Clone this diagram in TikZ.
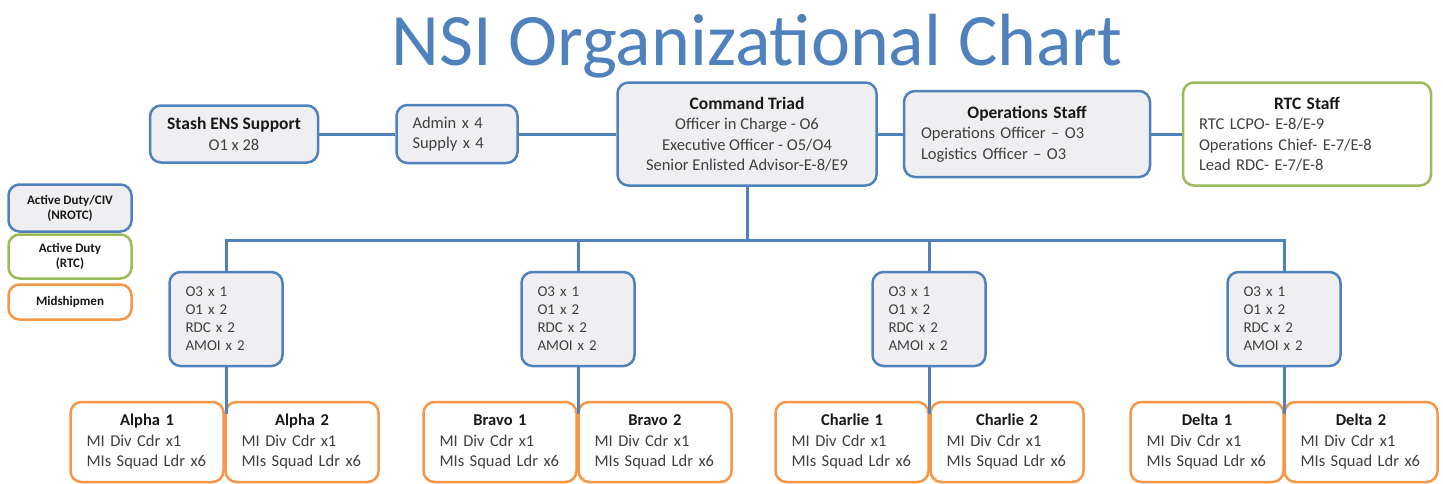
\documentclass[tikz,border=0pt]{standalone}
\usepackage{fontspec}
\setmainfont{Carlito}
\definecolor{nsiblue}{RGB}{79,129,189}
\definecolor{boxgray}{RGB}{239,239,242}
\definecolor{rtcgreen}{RGB}{155,187,89}
\definecolor{midorange}{RGB}{247,150,70}
\definecolor{txtgray}{RGB}{64,64,64}
\newcommand\orgtext{\fontsize{16.5}{20.5}\selectfont}
\newcommand\unittext{\fontsize{15}{18}\selectfont}
\newcommand\boxtitle[1]{\textbf{\color{black!90}#1}}
\newcommand\toptitle[1]{{\fontsize{17.5}{20.5}\selectfont\boxtitle{#1}}}
\tikzset{
  orgbox/.style={draw=nsiblue,fill=boxgray,line width=2.5pt,rounded corners=11pt,
                 inner sep=0pt,text=txtgray,font=\orgtext},
  legend/.style={orgbox,minimum width=123pt,minimum height=47pt,align=center,
                 font=\fontsize{13}{15}\selectfont\bfseries,text=black!90},
  unit/.style={orgbox,minimum width=113pt,minimum height=94pt,text width=81pt,
               align=left,font=\unittext},
  squad/.style={orgbox,draw=midorange,fill=white,minimum width=153pt,
                minimum height=80pt,text width=121pt,align=left,
                font=\fontsize{16.5}{20.5}\selectfont},
  link/.style={draw=nsiblue,line width=3pt}
}
\begin{document}
\begin{tikzpicture}[x=1pt,y=-1pt]
\useasboundingbox (0,0) rectangle (1443,483);
%title
\node[anchor=base,text=nsiblue,font=\fontsize{74}{80}\selectfont] (title) at (757,65) {NSI Organizational Chart};
%top row
\node[orgbox,minimum width=168pt,minimum height=57pt,align=center] (stash) at (234,134)
  {\toptitle{Stash ENS Support}\\O1 x 28};
\node[orgbox,minimum width=121pt,minimum height=58pt,text width=89pt,align=left] (admin) at (457,134)
  {Admin x 4\\Supply x 4};
\node[orgbox,minimum width=259pt,minimum height=103pt,align=center] (triad) at (747,134)
  {\toptitle{Command Triad}\\Officer in Charge - O6\\Executive Officer - O5/O4\\Senior Enlisted Advisor-E-8/E9};
\node[orgbox,minimum width=246pt,minimum height=86pt,text width=212pt,align=left] (ops) at (1027,134)
  {\makebox[\linewidth]{\toptitle{Operations Staff}}\\Operations Officer -- O3\\Logistics Officer -- O3};
\node[orgbox,draw=rtcgreen,fill=white,minimum width=248pt,minimum height=103pt,text width=216pt,align=left] (rtc) at (1307,134)
  {\makebox[\linewidth]{\toptitle{RTC Staff}}\\RTC LCPO- E-8/E-9\\Operations Chief- E-7/E-8\\Lead RDC- E-7/E-8};
%legend
\node[legend] (lgnrotc) at (70,208) {Active Duty/CIV\\(NROTC)};
\node[legend,draw=rtcgreen,fill=white,minimum height=44pt] (lgrtc) at (70,256.5) {Active Duty\\(RTC)};
\node[legend,draw=midorange,fill=white,minimum height=35pt] (lgmid) at (70,302) {Midshipmen};
%division staff
\node[unit] (alphaM) at (226,319) {O3 x 1\\O1 x 2\\RDC x 2\\AMOI x 2};
\node[unit] (bravoM) at (578,319) {O3 x 1\\O1 x 2\\RDC x 2\\AMOI x 2};
\node[unit] (charlieM) at (929,319) {O3 x 1\\O1 x 2\\RDC x 2\\AMOI x 2};
\node[unit] (deltaM) at (1284,319) {O3 x 1\\O1 x 2\\RDC x 2\\AMOI x 2};
%squads
\node[squad] (alpha1) at (147,442) {\makebox[\linewidth]{\boxtitle{Alpha 1}}\\MI Div Cdr x1\\MIs Squad Ldr x6};
\node[squad] (alpha2) at (302,442) {\makebox[\linewidth]{\boxtitle{Alpha 2}}\\MI Div Cdr x1\\MIs Squad Ldr x6};
\node[squad] (bravo1) at (500,442) {\makebox[\linewidth]{\boxtitle{Bravo 1}}\\MI Div Cdr x1\\MIs Squad Ldr x6};
\node[squad] (bravo2) at (655,442) {\makebox[\linewidth]{\boxtitle{Bravo 2}}\\MI Div Cdr x1\\MIs Squad Ldr x6};
\node[squad] (charlie1) at (852,442) {\makebox[\linewidth]{\boxtitle{Charlie 1}}\\MI Div Cdr x1\\MIs Squad Ldr x6};
\node[squad] (charlie2) at (1007,442) {\makebox[\linewidth]{\boxtitle{Charlie 2}}\\MI Div Cdr x1\\MIs Squad Ldr x6};
\node[squad] (delta1) at (1207,442) {\makebox[\linewidth]{\boxtitle{Delta 1}}\\MI Div Cdr x1\\MIs Squad Ldr x6};
\node[squad] (delta2) at (1361,442) {\makebox[\linewidth]{\boxtitle{Delta 2}}\\MI Div Cdr x1\\MIs Squad Ldr x6};
%links
\coordinate (bus) at (0,240);
\coordinate (alphaSplit) at (226,414);
\coordinate (bravoSplit) at (578,414);
\coordinate (charlieSplit) at (929,414);
\coordinate (deltaSplit) at (1284,414);
\draw[link] (stash) -- (admin) -- (triad) -- (ops) -- (rtc);
\draw[link] (triad) -- (triad.south |- bus);
\draw[link] (alphaM) -- (alphaM.north |- bus) -- (deltaM.north |- bus) -- (deltaM);
\draw[link] (bravoM) -- (bravoM.north |- bus);
\draw[link] (charlieM) -- (charlieM.north |- bus);
\draw[link] (alphaM) -- (alphaSplit);
\draw[link] (bravoM) -- (bravoSplit);
\draw[link] (charlieM) -- (charlieSplit);
\draw[link] (deltaM) -- (deltaSplit);
\end{tikzpicture}
\end{document}
